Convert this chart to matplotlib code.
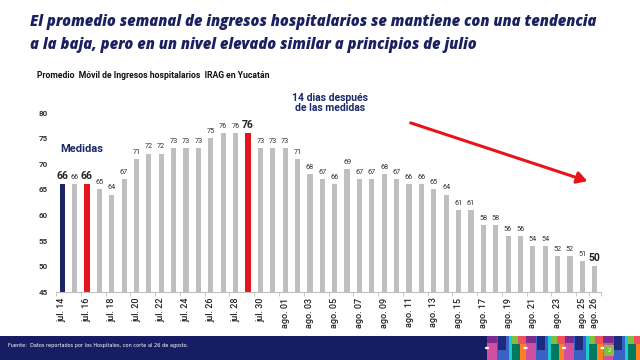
import matplotlib
matplotlib.use("Agg")
import matplotlib.pyplot as plt
from matplotlib.patches import Rectangle, Circle, FancyArrowPatch
import numpy as np

dates = ["jul. 14", "jul. 15", "jul. 16", "jul. 17", "jul. 18", "jul. 19", "jul. 20", "jul. 21",
         "jul. 22", "jul. 23", "jul. 24", "jul. 25", "jul. 26", "jul. 27", "jul. 28", "jul. 29",
         "jul. 30", "jul. 31", "ago. 01", "ago. 02", "ago. 03", "ago. 04", "ago. 05", "ago. 06",
         "ago. 07", "ago. 08", "ago. 09", "ago. 10", "ago. 11", "ago. 12", "ago. 13", "ago. 14",
         "ago. 15", "ago. 16", "ago. 17", "ago. 18", "ago. 19", "ago. 20", "ago. 21", "ago. 22",
         "ago. 23", "ago. 24", "ago. 25", "ago. 26"]
values = [66, 66, 66, 65, 64, 67, 71, 72, 72, 73, 73, 73, 75, 76, 76, 76,
          73, 73, 73, 71, 68, 67, 66, 69, 67, 67, 68, 67, 66, 66, 65, 64,
          61, 61, 58, 58, 56, 56, 54, 54, 52, 52, 51, 50]
shown_ticks = ["jul. 14", "jul. 16", "jul. 18", "jul. 20", "jul. 22", "jul. 24", "jul. 26",
               "jul. 28", "jul. 30", "ago. 01", "ago. 03", "ago. 05", "ago. 07", "ago. 09",
               "ago. 11", "ago. 13", "ago. 15", "ago. 17", "ago. 19", "ago. 21", "ago. 23",
               "ago. 25", "ago. 26"]
highlight = {"jul. 14": "#1b2466", "jul. 16": "#e8141b", "jul. 29": "#e8141b"}
bold_labels = ["jul. 14", "jul. 16", "jul. 29", "ago. 26"]

NAVY = "#1b2060"
GRAY = "#bfbfbf"
COND = ["Roboto", "DejaVu Sans"]

fig = plt.figure(figsize=(6.4, 3.6), dpi=100)
fig.patch.set_facecolor("white")

ax = fig.add_axes([56/640, 1-292/360, (601-56)/640, (292-112.5)/360])
x = np.arange(len(dates))
colors = [highlight.get(d, GRAY) for d in dates]
ax.bar(x, values, width=0.42, color=colors, zorder=2)
ax.set_ylim(45, 80)
ax.set_xlim(-0.5, len(dates) - 0.5)
ax.set_yticks(range(45, 81, 5))
ax.tick_params(axis="y", length=0, labelsize=5.8, pad=6)
for t in ax.get_yticklabels():
    t.set_family(COND)
    t.set_fontweight("bold")
    t.set_color("#333333")
tick_pos = [dates.index(d) for d in shown_ticks]
ax.set_xticks(tick_pos)
ax.set_xticklabels(shown_ticks, rotation=90, fontsize=6.5, family=COND, color="#222222",
                   fontweight="medium")
ax.tick_params(axis="x", length=0, pad=4)
ax.set_xticks([p - 0.5 for p in tick_pos] + [len(dates) - 0.5], minor=True)
ax.tick_params(axis="x", which="minor", length=3, color="#bfbfbf")
for s in ["top", "right", "left"]:
    ax.spines[s].set_visible(False)
ax.spines["bottom"].set_color("#bfbfbf")
ax.spines["bottom"].set_linewidth(0.8)

for xi, d, v in zip(x, dates, values):
    if d in bold_labels:
        ax.text(xi, v + 0.6, str(v), ha="center", va="bottom", fontsize=7.5,
                family=COND, fontweight="bold", color="#222222")
    else:
        ax.text(xi, v + 0.6, str(v), ha="center", va="bottom", fontsize=5.2,
                family=COND, color="#333333")

# annotations
fig.text(82/640, 1-149/360, "Medidas", ha="center", va="center", fontsize=8,
         fontweight="bold", color="#1b2a6b", family=["Roboto", "DejaVu Sans"])
fig.text(330/640, 1-103/360, "14 dias después\nde las medidas", ha="center", va="center",
         fontsize=7.5, fontweight="bold", color="#1b2a6b", linespacing=1.1,
         family=["Roboto", "DejaVu Sans"])
arr = FancyArrowPatch((408/640, 1-122/360), (590/640, 1-182/360), transform=fig.transFigure,
                      arrowstyle="-|>,head_length=6,head_width=3.5", color="#e8141b",
                      linewidth=2.2, mutation_scale=1)
fig.patches.append(arr)

# titles
TFONT = ["Open Sans", "Roboto", "DejaVu Sans"]
fig.text(30/640, 1-22/360, "El promedio semanal de ingresos hospitalarios se mantiene con una tendencia",
         ha="left", va="center", fontsize=10.6, fontweight="heavy", fontstyle="italic",
         color=NAVY, family=TFONT)
fig.text(30/640, 1-45/360, "a la baja, pero en un nivel elevado similar a principios de julio",
         ha="left", va="center", fontsize=10.6, fontweight="heavy", fontstyle="italic",
         color=NAVY, family=TFONT)
fig.text(37/640, 1-76/360, "Promedio  Móvil de Ingresos hospitalarios  IRAG en Yucatán",
         ha="left", va="center", fontsize=6.2, fontweight="bold", color="#111111", family=COND)

# footer
fig.patches.append(Rectangle((0, 0), 1, 24/360, transform=fig.transFigure,
                             facecolor="#161d63", edgecolor="none", zorder=1))
fig.text(8/640, 1-346/360, "Fuente:  Datos reportados por los Hospitales, con corte al 26 de agosto.",
         ha="left", va="center", fontsize=3.6, color="white", family=["DejaVu Sans"])

def px(xp, yp):
    return (xp/640, 1-yp/360)

period = 38.5
x0 = 487
for k in range(4):
    bx = x0 + k*period
    fig.patches.append(Rectangle(px(bx, 360), 10/640, 24/360, transform=fig.transFigure,
                                 facecolor="#d14fa0", edgecolor="none", zorder=2))
    fig.patches.append(Rectangle(px(bx, 343), 10/640, 7/360, transform=fig.transFigure,
                                 facecolor="#7b2d8e", edgecolor="none", zorder=2))
    fig.patches.append(Rectangle(px(bx+10, 360), 12/640, 24/360, transform=fig.transFigure,
                                 facecolor="#3a62c4", edgecolor="none", zorder=2))
    fig.patches.append(Rectangle(px(bx+11, 350), 8/640, 14/360, transform=fig.transFigure,
                                 facecolor="#1e2a7a", edgecolor="none", zorder=3))
    fig.patches.append(Rectangle(px(bx+22, 360), 8/640, 24/360, transform=fig.transFigure,
                                 facecolor="#20c8d0", edgecolor="none", zorder=2))
    fig.patches.append(Rectangle(px(bx+25, 360), 8/640, 16/360, transform=fig.transFigure,
                                 facecolor="#007a5e", edgecolor="none", zorder=3))
    fig.patches.append(Rectangle(px(bx+25, 344), 8/640, 8/360, transform=fig.transFigure,
                                 facecolor="#80c040", edgecolor="none", zorder=3))
    fig.patches.append(Rectangle(px(bx+33, 360), 6/640, 24/360, transform=fig.transFigure,
                                 facecolor="#ff8020", edgecolor="none", zorder=2))
    fig.patches.append(Rectangle(px(bx+31, 344), 8/640, 8/360, transform=fig.transFigure,
                                 facecolor="#f05060", edgecolor="none", zorder=3))
    fig.patches.append(Circle(px(bx, 348), 2.2/640, transform=fig.transFigure,
                              facecolor="white", edgecolor="none", zorder=4))
fig.patches.append(Rectangle(px(604, 356), 10/640, 11/360, transform=fig.transFigure,
                             facecolor="#80c040", edgecolor="none", zorder=5))
fig.text(609/640, 1-351/360, "2", ha="center", va="center", fontsize=4, color="white", zorder=6)

fig.savefig("out.png", dpi=100, facecolor="white")
